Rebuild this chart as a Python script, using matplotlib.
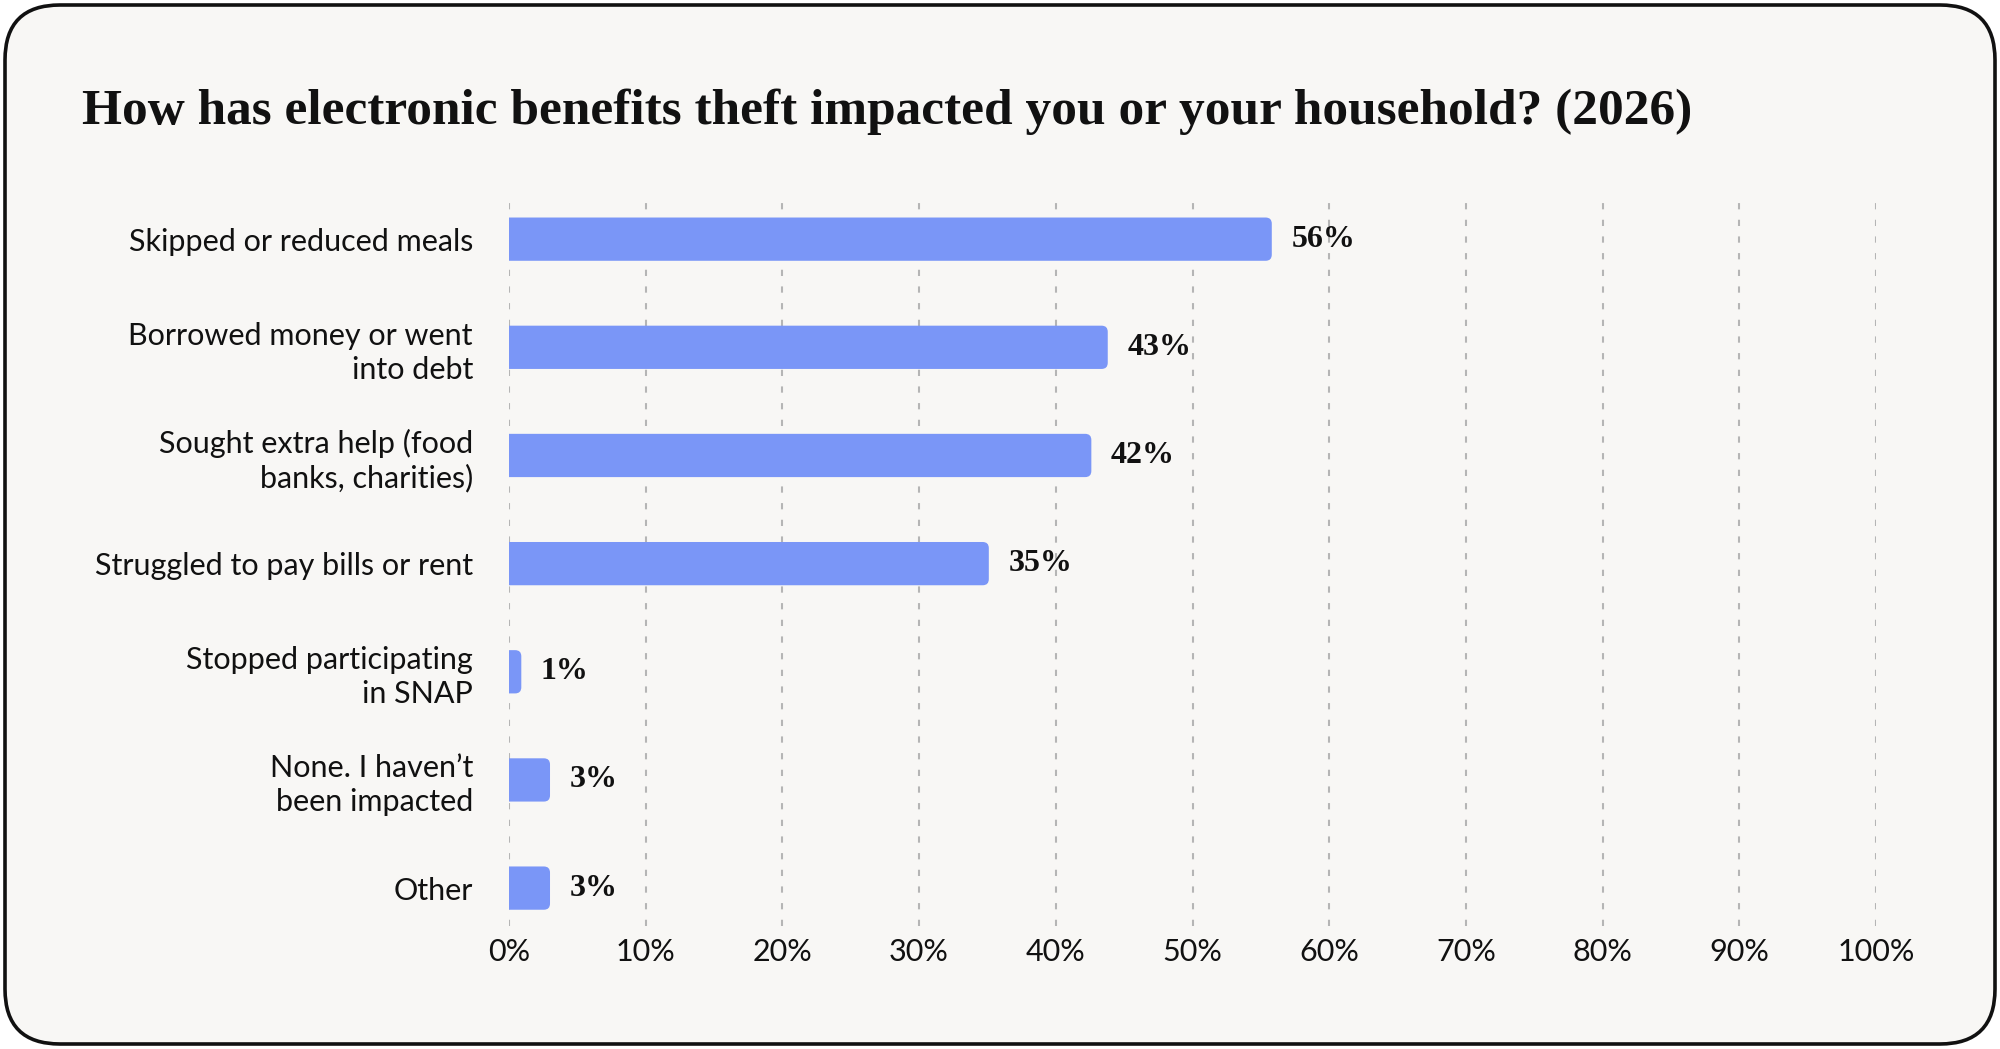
import matplotlib.pyplot as plt
from matplotlib.patches import FancyBboxPatch
import numpy as np

# data
categories = ['Skipped or reduced meals',
              'Borrowed money or went\ninto debt',
              'Sought extra help (food\nbanks, charities)',
              'Struggled to pay bills or rent',
              'Stopped participating\nin SNAP',
              'None. I haven\u2019t\nbeen impacted',
              'Other']
values = [55.8, 43.8, 42.6, 35.1, 0.9, 3.0, 3.0]
value_labels = ['56%', '43%', '42%', '35%', '1%', '3%', '3%']
ticks = np.arange(0, 101, 10)

bg = '#f8f7f5'
bar_color = '#7a96f7'
sans = ['Lato', 'DejaVu Sans']
serif = ['Liberation Serif', 'DejaVu Serif']

fig = plt.figure(figsize=(20, 10.49), dpi=100)
fig.patch.set_facecolor('white')

# card behind everything
card_ax = fig.add_axes([0, 0, 1, 1], zorder=-1)
card_ax.set_xlim(0, 2000)
card_ax.set_ylim(0, 1049)
card_ax.axis('off')
card = FancyBboxPatch((5, 5), 1990, 1039, boxstyle='round,pad=0,rounding_size=55',
                      facecolor=bg, edgecolor='#111111', linewidth=2.6)
card_ax.add_patch(card)

ax = fig.add_axes([0.2545, 0.1173, 0.9380 - 0.2545, 0.8112 - 0.1173])
ax.set_facecolor('none')
ax.set_xlim(0, 100)
ax.set_ylim(6.35, -0.38)

ind = np.arange(len(categories))
bars = ax.barh(ind, values, height=0.4, color=bar_color, zorder=3)

# swap the plain bars for ones with rounded ends (left end hidden behind x=0)
px_x = ax.bbox.width / 100
px_y = ax.bbox.height / 6.73
r = 0.45
for b in bars:
    x, y, w, h = b.get_x(), b.get_y(), b.get_width(), b.get_height()
    b.set_visible(False)
    rb = FancyBboxPatch((x - r, y), w + r, h, boxstyle=f'round,pad=0,rounding_size={r}',
                        mutation_aspect=px_x / px_y, facecolor=bar_color,
                        edgecolor='none', zorder=3)
    ax.add_patch(rb)

for b, lab in zip(bars, value_labels):
    ax.annotate(lab, (b.get_width(), b.get_y() + b.get_height() / 2),
                xytext=(14, 0), textcoords='offset points', va='center', ha='left',
                fontsize=23, fontweight='bold', family=serif, color='#111111')

ax.set_xticks(ticks)
ax.set_xticklabels([f'{t}%' for t in ticks], fontsize=22, family=sans, color='#111111')
ax.set_yticks(ind)
ax.set_yticklabels(categories, fontsize=22, family=sans, color='#111111',
                   linespacing=1.25)
ax.tick_params(axis='both', length=0)
ax.tick_params(axis='x', pad=9)
ax.tick_params(axis='y', pad=26)
for s in ax.spines.values():
    s.set_visible(False)
ax.grid(axis='x', color='#b5b5b5', linestyle=(0, (3, 5)), linewidth=1.5, zorder=0)
ax.set_axisbelow(True)

fig.text(0.041, 0.893, 'How has electronic benefits theft impacted you or your household? (2026)',
         fontsize=37, fontweight='bold', family=serif, color='#111111', va='center', ha='left')

fig.savefig('out.png', dpi=100, facecolor=fig.get_facecolor())
